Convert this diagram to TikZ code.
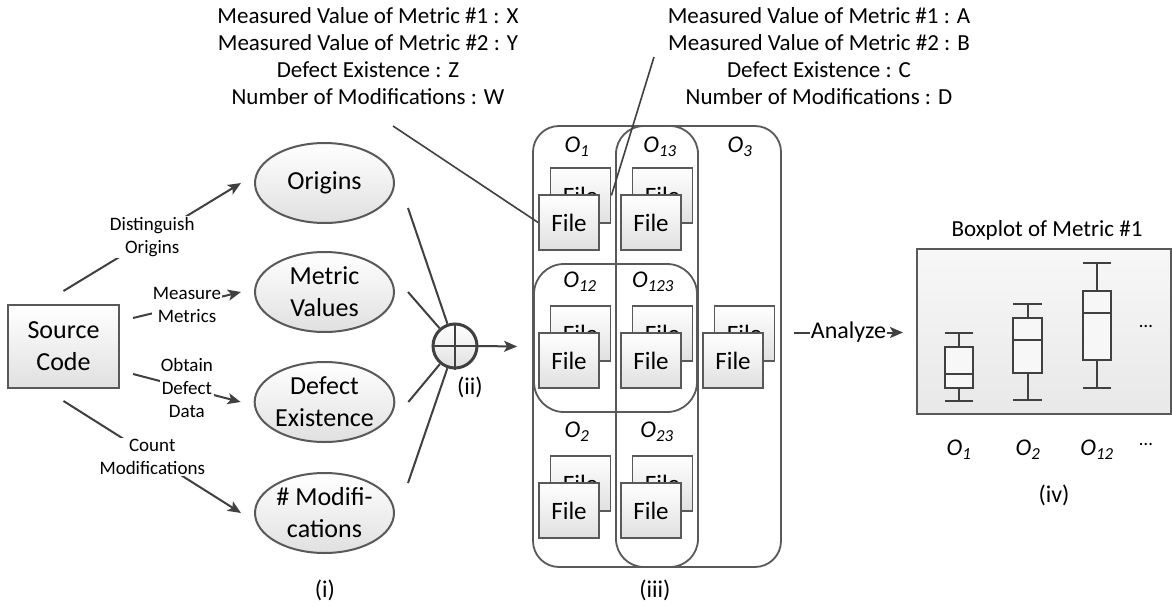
\documentclass[tikz,border=0pt]{standalone}
\usepackage{fontspec}
\setmainfont{Carlito}
\usetikzlibrary{arrows.meta,calc,shapes.geometric}
\definecolor{ln}{HTML}{404040}
\definecolor{bd}{HTML}{595959}
\definecolor{gbot}{HTML}{E0E0E0}
\newcommand\fsA{\fontsize{26pt}{32pt}\selectfont}
\newcommand\fsLab{\fontsize{19pt}{23pt}\selectfont}
\newcommand\fsTop{\fontsize{23pt}{27pt}\selectfont}
\newcommand\fsFile{\fontsize{25pt}{30pt}\selectfont}
\newcommand\fsO{\fontsize{24pt}{28pt}\selectfont\itshape}
\newcommand\fsMid{\fontsize{24pt}{28pt}\selectfont}
\newcommand\Osub[1]{O\textsubscript{#1}}
\begin{document}
\begin{tikzpicture}[x=1pt,y=-1pt,
  arr/.style={draw=ln, line width=2pt, -{Stealth[length=13pt,width=11pt,inset=3pt]}},
  plainln/.style={draw=ln, line width=2pt},
  thinln/.style={draw=ln, line width=1.6pt},
  grad/.style={top color=white, bottom color=gbot},
  ell/.style={ellipse, draw=bd, line width=2pt, grad, minimum width=139pt, minimum height=80pt, align=center, font=\fsA, inner sep=0pt},
  srcbox/.style={rectangle, draw=bd, line width=2pt, grad, minimum width=111pt, minimum height=83pt, align=center, font=\fsA, inner sep=0pt},
  lab/.style={fill=white, inner sep=1pt, align=center, font=\fsLab},
  filebox/.style={rectangle, draw=bd, line width=1.8pt, grad, minimum width=60pt, minimum height=55pt, inner sep=0pt, font=\fsFile},
  setbox/.style={draw=bd, line width=1.8pt, inner sep=0pt},
  olab/.style={font=\fsO, inner sep=0pt},
  toptext/.style={align=center, font=\fsTop, inner sep=0pt},
  midtext/.style={font=\fsMid, inner sep=0pt},
  bp/.style={draw=ln, line width=2pt}
]
\useasboundingbox (0,0) rectangle (1172,607);
\fill[white] (0,0) rectangle (1172,607);

% top texts
\node[toptext] (tl) at (368,56.5) {Measured Value of Metric \#1 : X\\Measured Value of Metric \#2 : Y\\Defect Existence : Z\\Number of Modifications : W};
\node[toptext] (tr) at (819,56.5) {Measured Value of Metric \#1 : A\\Measured Value of Metric \#2 : B\\Defect Existence : C\\Number of Modifications : D};

% source and ellipses
\node[srcbox] (src) at (63.5,346.5) {Source\\Code};
\node[ell] (org) at (324.5,183) {Origins};
\node[ell] (mv) at (324.5,292) {Metric\\Values};
\node[ell] (def) at (324.5,402) {Defect\\Existence};
\node[ell] (mod) at (324.5,513) {\# Modifi-\\cations};

\draw[arr] ($(src.north)+(0,-13)$) -- node[lab]{Distinguish\\Origins} ($(org.west)+(-13,0)$);
\draw[arr] ($(src.east)+(13,-28.5)$) -- node[lab]{Measure\\Metrics} ($(mv.west)+(-13,0)$);
\draw[arr] ($(src.east)+(13,27.5)$) -- node[lab]{Obtain\\Defect\\Data} ($(def.west)+(-13,0)$);
\draw[arr] ($(src.south)+(0,12)$) -- node[lab]{Count\\Modifications} ($(mod.west)+(-13,0)$);

% combining circle
\node[circle, draw=ln, line width=3pt, grad, minimum size=44pt, inner sep=0pt] (plus) at (455,346) {};
\draw[ln, line width=2.5pt] (plus.north) -- (plus.south) (plus.west) -- (plus.east);
\draw[plainln] ($(org.east)+(13,25)$) -- (plus);
\draw[plainln] ($(mv.east)+(13,0)$) -- (plus);
\draw[plainln] ($(def.east)+(13,0)$) -- (plus);
\draw[plainln] ($(mod.east)+(13,-30)$) -- (plus);
\node[midtext] (ii) at (470,387) {(ii)};

% set boxes
\node[setbox, rounded corners=26pt, minimum width=248pt, minimum height=441pt] (R1) at (657,346.5) {};
\node[setbox, rounded corners=28pt, minimum width=82pt, minimum height=441pt] (R2) at (657,346.5) {};
\node[setbox, rounded corners=30pt, minimum width=163pt, minimum height=148pt] (R3) at (615.5,338) {};

\draw[arr] (plus.east) -- ($(R1.west)+(-15,0)$);

\node[olab] (o1) at (577,147) {\Osub{1}};
\node[olab] (o13) at (660,147) {\Osub{13}};
\node[olab] (o3) at (740,147) {\Osub{3}};
\node[olab] (o12) at (580,282) {\Osub{12}};
\node[olab] (o123) at (653,282) {\Osub{123}};
\node[olab] (o2) at (577,432) {\Osub{2}};
\node[olab] (o23) at (657,432) {\Osub{23}};

\foreach \nm/\fx/\fy in {s1/569/222.5, s13/651/222.5, s12/569/360.5, s123/651/360.5, s3/733/360.5, s2/569/510.5, s23/651/510.5}{
  \node[filebox] (\nm b) at (\fx+11.5,\fy-27) {File};
  \node[filebox] (\nm f) at (\fx,\fy) {File};
}

% callouts
\coordinate (cl) at (393,126);
\coordinate (cr) at (654,57);
\draw[thinln] (cl) -- (s1f.west);
\draw[thinln] (cr) -- (s1b.east);

\node[midtext] (iii) at (655,590) {(iii)};
\node[midtext] (i) at (325,590) {(i)};

% boxplot
\node[rectangle, draw=bd, line width=2pt, top color=black!3, bottom color=black!9, minimum width=254pt, minimum height=165pt, inner sep=0pt] (frame) at (1044,331.5) {};
\node[midtext, font=\fontsize{23pt}{27pt}\selectfont] (bt) at (1047,230) {Boxplot of Metric \#1};
\draw[arr] ($(R1.east)+(12,-14)$) -- node[fill=white, inner sep=1pt, font=\fsMid]{Analyze} ($(frame.west)+(-13,1)$);

% box 1
\draw[bp] (945,333) -- (973,333) (959,333) -- (959,347) (959,388) -- (959,401) (945,401) -- (973,401);
\draw[bp, fill=black!3] (945,347) rectangle (973,388);
\draw[bp] (945,374) -- (973,374);
% box 2
\draw[bp] (1013,304) -- (1042,304) (1027.5,304) -- (1027.5,318) (1027.5,373) -- (1027.5,400) (1013,400) -- (1042,400);
\draw[bp, fill=black!3] (1013,318) rectangle (1042,373);
\draw[bp] (1013,340) -- (1042,340);
% box 3
\draw[bp] (1083,263) -- (1111,263) (1097,263) -- (1097,291) (1097,360) -- (1097,388) (1083,388) -- (1111,388);
\draw[bp, fill=black!3] (1083,291) rectangle (1111,360);
\draw[bp] (1083,313) -- (1111,313);
\node[font=\fsLab, inner sep=0pt] (dots1) at (1146,326) {…};

\node[olab] (b1) at (959,450) {\Osub{1}};
\node[olab] (b2) at (1028,450) {\Osub{2}};
\node[olab] (b12) at (1097,450) {\Osub{12}};
\node[font=\fsLab, inner sep=0pt] (dots2) at (1146,444) {…};
\node[midtext] (iv) at (1054,495) {(iv)};
\end{tikzpicture}
\end{document}
